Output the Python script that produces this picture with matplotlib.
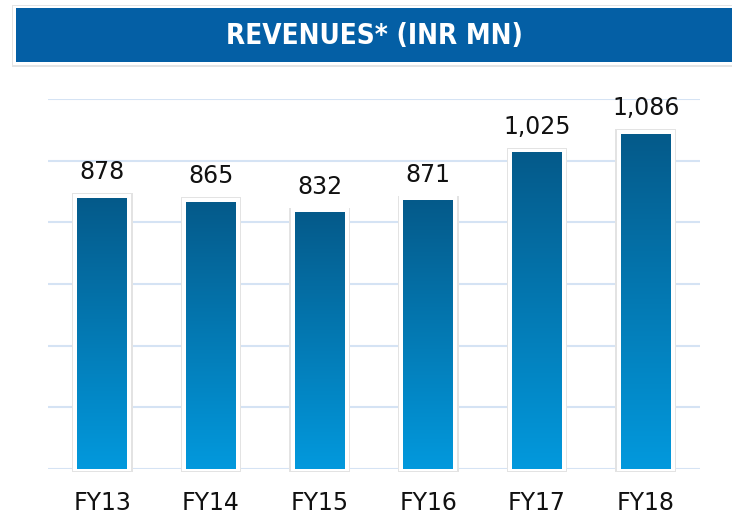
import numpy as np
import matplotlib.pyplot as plt
from matplotlib.patches import Rectangle

years = ['FY13', 'FY14', 'FY15', 'FY16', 'FY17', 'FY18']
revenues = [878, 865, 832, 871, 1025, 1086]
labels = ['878', '865', '832', '871', '1,025', '1,086']

fig = plt.figure(figsize=(7.32, 5.19), dpi=100)

# title banner
ban = fig.add_axes([0, 0, 1, 1], zorder=0)
ban.set_xlim(0, 732)
ban.set_ylim(519, 0)
ban.axis('off')
ban.add_patch(Rectangle((12, 5), 725, 62, facecolor='#e4e4e4', edgecolor='none'))
ban.add_patch(Rectangle((13, 6), 725, 59, facecolor='white', edgecolor='none'))
ban.add_patch(Rectangle((16, 8), 720, 54, facecolor='#045fa5', edgecolor='none'))
ban.text(374, 36, 'REVENUES* (INR MN)', color='white', fontsize=20, fontweight='bold',
         fontstretch='condensed', ha='center', va='center', family='DejaVu Sans')

ax = fig.add_axes([48 / 732, 1 - 469 / 519, 652 / 732, 370 / 519], zorder=1)
ax.patch.set_alpha(0)
x = np.arange(len(years))
bars = ax.bar(x, revenues, width=0.46, color='none', zorder=3)

grad = np.linspace(0, 1, 256).reshape(-1, 1)
cmap = plt.matplotlib.colors.LinearSegmentedColormap.from_list('g', ['#0299dd', '#055a8a'])
for b, lab in zip(bars, labels):
    x0, w, h = b.get_x(), b.get_width(), b.get_height()
    # soft shadow + white frame
    ax.add_patch(Rectangle((x0 - 0.05, -10), w + 0.10, h + 26, facecolor='#e3e3e3',
                           edgecolor='none', zorder=2, clip_on=False))
    ax.add_patch(Rectangle((x0 - 0.037, -7), w + 0.074, h + 20, facecolor='white',
                           edgecolor='none', zorder=2.5, clip_on=False))
    ax.imshow(grad, extent=[x0, x0 + w, 0, h], origin='lower', aspect='auto',
              cmap=cmap, zorder=3)
    ax.text(b.get_x() + w / 2, h + 45, lab, ha='center', va='bottom', fontsize=17,
            color='#111111')

ax.set_xlim(-0.5, 5.5)
ax.set_ylim(0, 1200)
ax.set_yticks(range(0, 1201, 200))
ax.yaxis.grid(True, color='#d5e3f4', linewidth=1.5, zorder=0)
ax.set_axisbelow(True)
ax.set_yticklabels([])
ax.tick_params(axis='y', length=0)
ax.set_xticks(x)
ax.set_xticklabels(years, fontsize=17, color='#111111')
ax.tick_params(axis='x', length=0, pad=16)
for s in ax.spines.values():
    s.set_visible(False)

fig.savefig('out.png', dpi=100)
